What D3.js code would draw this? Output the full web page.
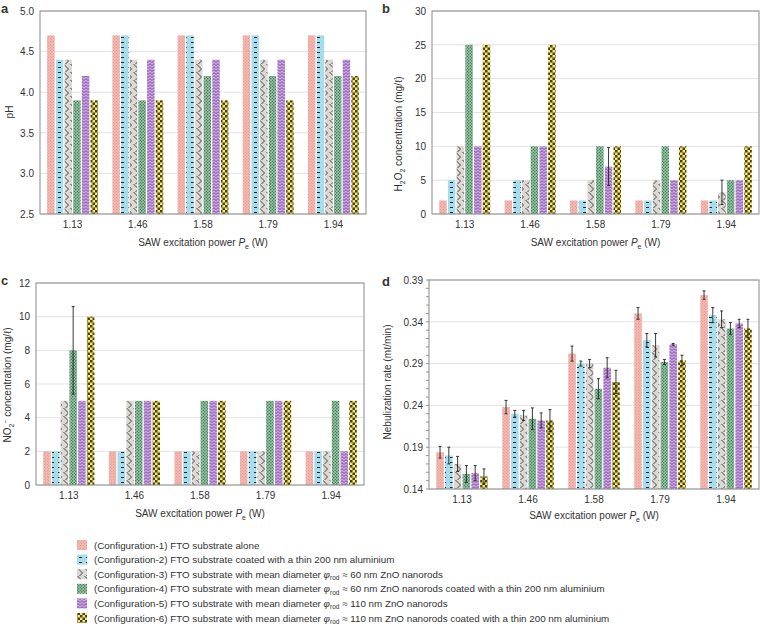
<!DOCTYPE html>
<html><head><meta charset="utf-8">
<script src="https://cdn.jsdelivr.net/npm/d3@7"></script>
<style>
body{margin:0;background:#fff}
text{font-family:"Liberation Sans",Arial,sans-serif;fill:#333}
</style>
</head><body>
<svg id="chart" width="760" height="632"></svg>
<script>
// ---------------- data ----------------
const powers = ["1.13", "1.46", "1.58", "1.79", "1.94"];
const configs = ["Configuration-1", "Configuration-2", "Configuration-3", "Configuration-4", "Configuration-5", "Configuration-6"];

// pH (panel a), one row per configuration, values across powers
const phValues = [
  [4.7, 4.7, 4.7, 4.7, 4.7],
  [4.4, 4.7, 4.7, 4.7, 4.7],
  [4.4, 4.4, 4.4, 4.4, 4.4],
  [3.9, 3.9, 4.2, 4.2, 4.2],
  [4.2, 4.4, 4.4, 4.4, 4.4],
  [3.9, 3.9, 3.9, 3.9, 4.2]
];
// H2O2 concentration (panel b)
const h2o2Values = [
  [2, 2, 2, 2, 2],
  [5, 5, 2, 2, 2],
  [10, 5, 5, 5, 3.2],
  [25, 10, 10, 10, 5],
  [10, 10, 7, 5, 5],
  [25, 25, 10, 10, 10]
];
const h2o2Errors = [
  [0, 0, 0, 0, 0],
  [0, 0, 0, 0, 0],
  [0, 0, 0, 0, 1.8],
  [0, 0, 0, 0, 0],
  [0, 0, 2.8, 0, 0],
  [0, 0, 0, 0, 0]
];
// NO2- concentration (panel c)
const no2Values = [
  [2, 2, 2, 2, 2],
  [2, 2, 2, 2, 2],
  [5, 5, 2, 2, 2],
  [8, 5, 5, 5, 5],
  [5, 5, 5, 5, 2],
  [10, 5, 5, 5, 5]
];
const no2Errors = [
  [0, 0, 0, 0, 0],
  [0, 0, 0, 0, 0],
  [0, 0, 0, 0, 0],
  [2.6, 0, 0, 0, 0],
  [0, 0, 0, 0, 0],
  [0, 0, 0, 0, 0]
];
// Nebulization rate (panel d)
const nebValues = [
  [0.184, 0.238, 0.302, 0.350, 0.372],
  [0.180, 0.230, 0.290, 0.318, 0.348],
  [0.170, 0.228, 0.290, 0.312, 0.343],
  [0.158, 0.224, 0.260, 0.292, 0.332],
  [0.159, 0.222, 0.285, 0.313, 0.338],
  [0.155, 0.222, 0.268, 0.294, 0.332]
];
const nebErrors = [
  [0.007, 0.008, 0.009, 0.007, 0.005],
  [0.010, 0.004, 0.003, 0.008, 0.009],
  [0.009, 0.006, 0.005, 0.014, 0.010],
  [0.010, 0.013, 0.012, 0.003, 0.007],
  [0.009, 0.009, 0.012, 0.001, 0.005],
  [0.009, 0.013, 0.014, 0.006, 0.011]
];
const phTicks = [2.5, 3.0, 3.5, 4.0, 4.5, 5.0];
const h2o2Ticks = [0, 5, 10, 15, 20, 25, 30];
const no2Ticks = [0, 2, 4, 6, 8, 10, 12];
const nebTicks = [0.14, 0.19, 0.24, 0.29, 0.34, 0.39];

// ---------------- patterns ----------------
const svg = d3.select("#chart");
const defs = svg.append("defs");
function pat(id, w, h, bg, draw) {
  const p = defs.append("pattern").attr("id", id).attr("patternUnits", "userSpaceOnUse")
    .attr("width", w).attr("height", h);
  p.append("rect").attr("width", w).attr("height", h).attr("fill", bg);
  draw(p);
}
pat("p0", 3, 3, "#f4bab3", p => {
  p.append("circle").attr("cx", 0.8).attr("cy", 0.8).attr("r", 0.5).attr("fill", "#d8857e");
  p.append("circle").attr("cx", 2.3).attr("cy", 2.3).attr("r", 0.5).attr("fill", "#d8857e");
});
pat("p1", 7, 5, "#a6dcec", p => {
  p.append("rect").attr("x", 2).attr("y", 2).attr("width", 3).attr("height", 1).attr("fill", "#1e2a30");
});
pat("p2", 7, 8, "#dcd8d3", p => {
  p.append("path").attr("d", "M0.5,0 L5.5,5 L2.5,8").attr("fill", "none").attr("stroke", "#3a3634").attr("stroke-width", 0.9);
});
pat("p3", 3, 3, "#93c8a4", p => {
  p.append("circle").attr("cx", 0.8).attr("cy", 0.8).attr("r", 0.65).attr("fill", "#1c3a26");
  p.append("circle").attr("cx", 2.3).attr("cy", 2.3).attr("r", 0.55).attr("fill", "#1c3a26");
});
pat("p4", 4, 3, "#cda6e4", p => {
  p.append("path").attr("d", "M0,2.5 L2,0.7 L4,2.5").attr("fill", "none").attr("stroke", "#6c3b8e").attr("stroke-width", 0.8);
});
pat("p5", 5, 5, "#f3e77a", p => {
  p.append("rect").attr("x", 0).attr("y", 0).attr("width", 2.5).attr("height", 2.5).attr("fill", "#4a4212");
  p.append("rect").attr("x", 2.5).attr("y", 2.5).attr("width", 2.5).attr("height", 2.5).attr("fill", "#4a4212");
});
const fills = configs.map((c, i) => `url(#p${i})`);

// ---------------- panel drawer ----------------
function panel(o) {
  const g = svg.append("g");
  const x = d3.scaleBand().domain(powers).range([o.x0, o.x1]).paddingInner(0.22).paddingOuter(0.11);
  const xi = d3.scaleBand().domain(configs).range([0, x.bandwidth()]).paddingInner(0.14);
  const y = d3.scaleLinear().domain(o.domain).range([o.y1, o.y0]);

  // gridlines
  g.append("g").selectAll("line").data(o.ticks).join("line")
    .attr("x1", o.x0).attr("x2", o.x1).attr("y1", d => y(d)).attr("y2", d => y(d))
    .attr("stroke", "#e3e3e3").attr("stroke-width", 1);

  // y axis
  const yAxis = d3.axisLeft(y).tickValues(o.ticks).tickFormat(o.fmt).tickSize(0).tickPadding(6);
  const ya = g.append("g").attr("transform", `translate(${o.x0},0)`).call(yAxis);
  ya.select(".domain").remove();
  ya.selectAll("text").attr("font-size", 10).attr("fill", "#333").attr("font-family", "Liberation Sans, Arial, sans-serif");
  if (o.minor) {
    const mt = d3.range(Math.round(o.domain[0] * 100), Math.round(o.domain[1] * 100) + 1).map(v => v / 100);
    g.append("g").selectAll("line").data(mt).join("line")
      .attr("x1", o.x0 - 3).attr("x2", o.x0).attr("y1", d => y(d)).attr("y2", d => y(d))
      .attr("stroke", "#777").attr("stroke-width", 0.8);
  }

  // bars
  const data = [];
  o.values.forEach((row, ci) => row.forEach((v, pi) => data.push({
    p: powers[pi], c: configs[ci], ci, v, e: o.errors ? o.errors[ci][pi] : 0
  })));
  g.append("g").selectAll("rect").data(data).join("rect")
    .attr("x", d => x(d.p) + xi(d.c)).attr("width", xi.bandwidth())
    .attr("y", d => y(d.v)).attr("height", d => y(o.domain[0]) - y(d.v))
    .attr("fill", d => fills[d.ci]);

  // error bars
  const eb = g.append("g").attr("stroke", "#222").attr("stroke-width", 0.9);
  data.filter(d => d.e > 0).forEach(d => {
    const cx = x(d.p) + xi(d.c) + xi.bandwidth() / 2;
    const top = y(Math.min(d.v + d.e, o.domain[1]));
    const bot = y(Math.max(d.v - d.e, o.domain[0]));
    eb.append("line").attr("x1", cx).attr("x2", cx).attr("y1", top).attr("y2", bot);
    eb.append("line").attr("x1", cx - 1.5).attr("x2", cx + 1.5).attr("y1", top).attr("y2", top);
    eb.append("line").attr("x1", cx - 1.5).attr("x2", cx + 1.5).attr("y1", bot).attr("y2", bot);
  });

  // frame
  g.append("rect").attr("x", o.x0).attr("y", o.y0).attr("width", o.x1 - o.x0).attr("height", o.y1 - o.y0)
    .attr("fill", "none").attr("stroke", "#8a8a8a").attr("stroke-width", 1);

  // x axis labels
  const xAxis = d3.axisBottom(x).tickSize(0).tickPadding(7);
  const xa = g.append("g").attr("transform", `translate(0,${o.y1})`).call(xAxis);
  xa.select(".domain").remove();
  xa.selectAll("text").attr("font-size", 10).attr("fill", "#333").attr("font-family", "Liberation Sans, Arial, sans-serif");

  // x title
  const xt = g.append("text").attr("x", (o.x0 + o.x1) / 2).attr("y", o.y1 + o.xtOff)
    .attr("text-anchor", "middle").attr("font-size", 10);
  xt.append("tspan").text("SAW excitation power ");
  xt.append("tspan").attr("font-style", "italic").text("P");
  xt.append("tspan").attr("font-size", 7).attr("dy", 2.5).text("e");
  xt.append("tspan").attr("dy", -2.5).text(" (W)");

  // y title
  const yt = g.append("text").attr("transform", `translate(${o.ytX},${o.ytY}) rotate(-90)`)
    .attr("text-anchor", "middle").attr("font-size", 10);
  o.ytitle(yt);

  // panel letter
  g.append("text").attr("x", o.lx).attr("y", o.ly).attr("font-size", 13).attr("font-weight", "bold")
    .attr("fill", "#111").text(o.letter);
}

panel({ x0: 40, x1: 366, y0: 11, y1: 214, domain: [2.5, 5.0], ticks: phTicks, fmt: d3.format(".1f"),
  values: phValues, xtOff: 32, ytX: 13, ytY: 112, letter: "a", lx: 1, ly: 13,
  ytitle: t => t.text("pH") });

panel({ x0: 432, x1: 759, y0: 11, y1: 214, domain: [0, 30], ticks: h2o2Ticks, fmt: d3.format("d"),
  values: h2o2Values, errors: h2o2Errors, xtOff: 32, ytX: 402, ytY: 134, letter: "b", lx: 382, ly: 13,
  ytitle: t => {
    t.append("tspan").text("H");
    t.append("tspan").attr("font-size", 7).attr("dy", 2.5).text("2");
    t.append("tspan").attr("dy", -2.5).text("O");
    t.append("tspan").attr("font-size", 7).attr("dy", 2.5).text("2");
    t.append("tspan").attr("dy", -2.5).text(" concentration (mg/\u2113)");
  } });

panel({ x0: 36, x1: 364, y0: 283, y1: 485, domain: [0, 12], ticks: no2Ticks, fmt: d3.format("d"),
  values: no2Values, errors: no2Errors, xtOff: 32, ytX: 11, ytY: 385, letter: "c", lx: 1, ly: 285,
  ytitle: t => {
    t.append("tspan").text("NO");
    t.append("tspan").attr("font-size", 7).attr("dy", 2.5).text("2");
    t.append("tspan").attr("font-size", 7).attr("dy", -6).text("\u2212");
    t.append("tspan").attr("dy", 3.5).text(" concentration (mg/\u2113)");
  } });

panel({ x0: 429, x1: 759, y0: 280, y1: 489, domain: [0.14, 0.39], ticks: nebTicks, fmt: d3.format(".2f"),
  values: nebValues, errors: nebErrors, minor: true, xtOff: 30, ytX: 391, ytY: 382, letter: "d", lx: 382, ly: 286,
  ytitle: t => t.text("Nebulization rate (m\u2113/min)") });

// ---------------- legend ----------------
const legendParts = [
  ["(Configuration-1) FTO substrate alone"],
  ["(Configuration-2) FTO substrate coated with a thin 200 nm aluminium"],
  ["(Configuration-3) FTO substrate with mean diameter ", " \u2248 60 nm ZnO nanorods"],
  ["(Configuration-4) FTO substrate with mean diameter ", " \u2248 60 nm ZnO nanorods coated with a thin 200 nm aluminium"],
  ["(Configuration-5) FTO substrate with mean diameter ", " \u2248 110 nm ZnO nanorods"],
  ["(Configuration-6) FTO substrate with mean diameter ", " \u2248 110 nm ZnO nanorods coated with a thin 200 nm aluminium"]
];
const lg = svg.append("g");
legendParts.forEach((parts, i) => {
  const cy = 545 + i * 14.6;
  lg.append("rect").attr("x", 77).attr("y", cy - 5).attr("width", 10).attr("height", 10).attr("fill", fills[i]);
  const t = lg.append("text").attr("x", 94).attr("y", cy + 3.5).attr("font-size", 9.8);
  t.append("tspan").text(parts[0]);
  if (parts.length > 1) {
    t.append("tspan").attr("font-style", "italic").text("\u03c6");
    t.append("tspan").attr("font-size", 6.5).attr("dy", 2.5).text("rod");
    t.append("tspan").attr("dy", -2.5).text(parts[1]);
  }
});
</script>
</body></html>
